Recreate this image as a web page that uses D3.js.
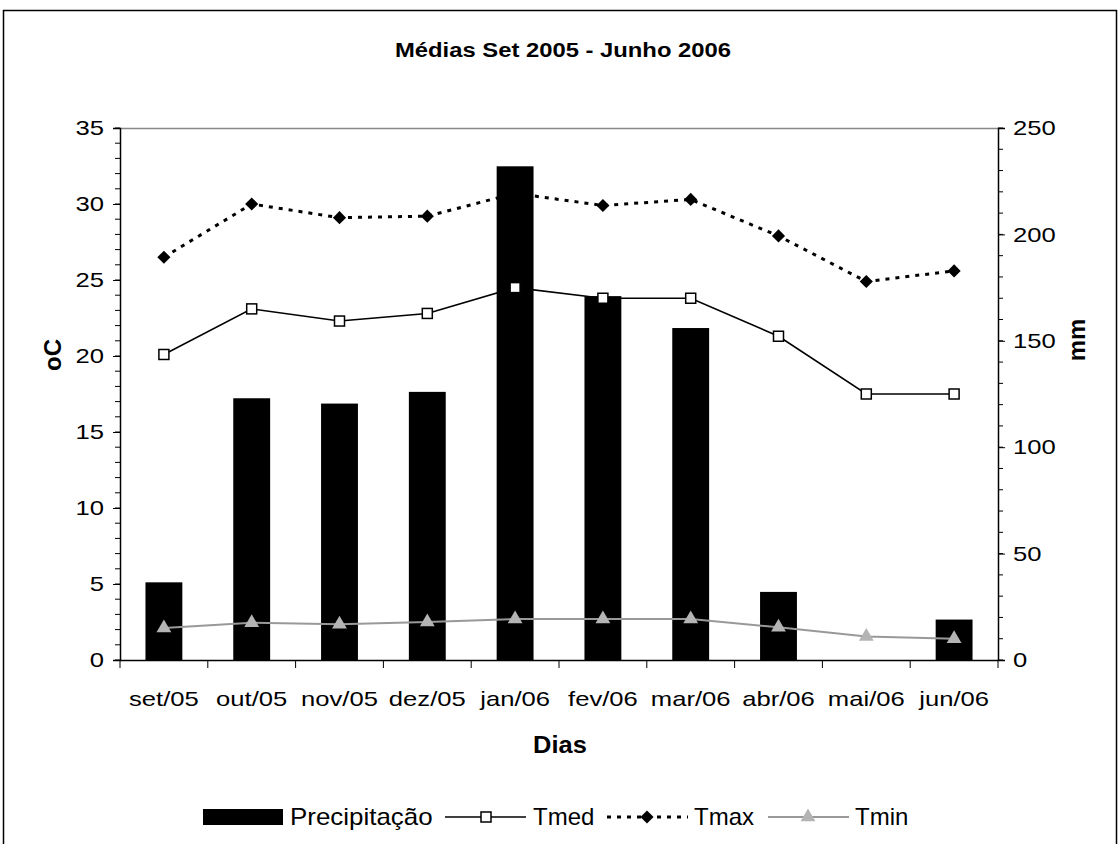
<!DOCTYPE html>
<html>
<head>
<meta charset="utf-8">
<script src="https://cdn.jsdelivr.net/npm/d3@7"></script>
<style>
  body { margin: 0; background: #fff; }
  text { font-family: "Liberation Sans", Arial, sans-serif; fill: #000; }
</style>
</head>
<body>
<div id="chart"></div>
<script>
// data
var months = ["set/05", "out/05", "nov/05", "dez/05", "jan/06", "fev/06", "mar/06", "abr/06", "mai/06", "jun/06"];
var precip = [36.5, 123, 120.5, 126, 232, 171, 156, 32, 0, 19];
var tmed = [20.1, 23.1, 22.3, 22.8, 24.5, 23.8, 23.8, 21.3, 17.5, 17.5];
var tmax = [26.5, 30.0, 29.1, 29.2, 30.7, 29.9, 30.3, 27.9, 24.9, 25.6];
var tmin = [2.1, 2.45, 2.35, 2.5, 2.7, 2.7, 2.7, 2.15, 1.55, 1.4];
var leftTicks = [0, 5, 10, 15, 20, 25, 30, 35];
var rightTicks = [0, 50, 100, 150, 200, 250];

var W = 1120, H = 844;
var plot = { left: 120, right: 998, top: 128, bottom: 660 };

var svg = d3.select("#chart").append("svg")
  .attr("width", W).attr("height", H);

svg.append("rect").attr("width", W).attr("height", H).attr("fill", "#fff");

// the old chart text is drawn wider than the font, stretch it a bit
function stretch(sel, f) {
  sel.each(function() {
    var len = this.getComputedTextLength();
    d3.select(this).attr("textLength", len * f).attr("lengthAdjust", "spacingAndGlyphs");
  });
}

// outer frame
svg.append("rect")
  .attr("x", 3.5).attr("y", 10.5)
  .attr("width", 1113).attr("height", 900)
  .attr("fill", "none").attr("stroke", "#000").attr("stroke-width", 1.5);

/* Scales */
var x = d3.scaleBand().domain(months)
  .range([plot.left, plot.right])
  .paddingInner(0.58).paddingOuter(0.29);
var step = x.step();
var yL = d3.scaleLinear().domain([0, 35]).range([plot.bottom, plot.top]);
var yR = d3.scaleLinear().domain([0, 250]).range([plot.bottom, plot.top]);
var cx = d => x(d) + x.bandwidth() / 2;

// top border of the plot area
svg.append("line")
  .attr("x1", plot.left).attr("x2", plot.right)
  .attr("y1", plot.top + 0.5).attr("y2", plot.top + 0.5)
  .attr("stroke", "#888").attr("stroke-width", 1.5);

/* Bars (secondary axis) */
svg.append("g").selectAll("rect")
  .data(precip.map((v, i) => ({ m: months[i], v: v })))
  .enter().append("rect")
  .attr("x", d => x(d.m))
  .attr("width", x.bandwidth())
  .attr("y", d => yR(d.v))
  .attr("height", d => yR(0) - yR(d.v))
  .attr("fill", "#000");

/* Axes */
var fontTick = "21px";
var leftAxis = svg.append("g")
  .attr("transform", `translate(${plot.left},0)`)
  .call(d3.axisLeft(yL).tickValues(leftTicks).tickSize(7).tickPadding(9));
leftAxis.append("g").selectAll("line")
  .data(d3.range(0, 36))
  .enter().append("line")
  .attr("x1", -5).attr("x2", 0)
  .attr("y1", d => yL(d)).attr("y2", d => yL(d))
  .attr("stroke", "#000");

var rightAxis = svg.append("g")
  .attr("transform", `translate(${plot.right},0)`)
  .call(d3.axisRight(yR).tickValues(rightTicks).tickSize(7).tickPadding(8));
rightAxis.append("g").selectAll("line")
  .data(d3.range(0, 251, 10))
  .enter().append("line")
  .attr("x1", 0).attr("x2", 5)
  .attr("y1", d => yR(d)).attr("y2", d => yR(d))
  .attr("stroke", "#000");

var bottomAxis = svg.append("g")
  .attr("transform", `translate(0,${plot.bottom})`)
  .call(d3.axisBottom(x).tickSize(0).tickPadding(31));
bottomAxis.append("g").selectAll("line")
  .data(d3.range(0, months.length + 1))
  .enter().append("line")
  .attr("x1", d => plot.left + d * step).attr("x2", d => plot.left + d * step)
  .attr("y1", 0).attr("y2", 8)
  .attr("stroke", "#000");

[leftAxis, rightAxis, bottomAxis].forEach(function(g) {
  g.select(".domain").attr("stroke", "#000").attr("stroke-width", 1.5);
  g.selectAll(".tick line").attr("stroke", "#000");
  g.selectAll(".tick text")
    .style("font-family", "Liberation Sans, Arial, sans-serif")
    .style("font-size", fontTick)
    .attr("fill", "#000")
    .call(stretch, 1.22);
});

/* Lines */
function lineGen(y) {
  return d3.line().x((d, i) => cx(months[i])).y(d => y(d));
}

// Tmin
svg.append("path").datum(tmin)
  .attr("d", lineGen(yL))
  .attr("fill", "none").attr("stroke", "#999").attr("stroke-width", 2);
svg.append("g").selectAll("path")
  .data(tmin).enter().append("path")
  .attr("d", d3.symbol(d3.symbolTriangle, 95))
  .attr("transform", (d, i) => `translate(${cx(months[i])},${yL(d)})`)
  .attr("fill", "#b4b4b4");

// Tmed
svg.append("path").datum(tmed)
  .attr("d", lineGen(yL))
  .attr("fill", "none").attr("stroke", "#000").attr("stroke-width", 1.6);
svg.append("g").selectAll("rect")
  .data(tmed).enter().append("rect")
  .attr("x", (d, i) => cx(months[i]) - 5)
  .attr("y", d => yL(d) - 5)
  .attr("width", 10).attr("height", 10)
  .attr("fill", "#fff").attr("stroke", "#000").attr("stroke-width", 1.5);

// Tmax
svg.append("path").datum(tmax)
  .attr("d", lineGen(yL))
  .attr("fill", "none").attr("stroke", "#000").attr("stroke-width", 3)
  .attr("stroke-dasharray", "4,6");
svg.append("g").selectAll("path")
  .data(tmax).enter().append("path")
  .attr("d", d3.symbol(d3.symbolDiamond2, 110))
  .attr("transform", (d, i) => `translate(${cx(months[i])},${yL(d)})`)
  .attr("fill", "#000");

/* Titles */
svg.append("text")
  .attr("x", 563).attr("y", 57)
  .attr("text-anchor", "middle")
  .style("font-size", "20px").style("font-weight", "bold")
  .text("Médias Set 2005 - Junho 2006")
  .call(stretch, 1.19);

svg.append("text")
  .attr("x", 560).attr("y", 753)
  .attr("text-anchor", "middle")
  .style("font-size", "24px").style("font-weight", "bold")
  .text("Dias")
  .call(stretch, 1.06);

svg.append("text")
  .attr("transform", "translate(61,355) rotate(-90)")
  .attr("text-anchor", "middle")
  .style("font-size", "24px").style("font-weight", "bold")
  .text("oC");

svg.append("text")
  .attr("transform", "translate(1085,340) rotate(-90)")
  .attr("text-anchor", "middle")
  .style("font-size", "24px").style("font-weight", "bold")
  .text("mm");

/* Legend */
var ly = 817;
var legend = svg.append("g").style("font-size", "24px");
legend.append("rect").attr("x", 203).attr("y", ly - 8).attr("width", 80).attr("height", 16).attr("fill", "#000");
legend.append("text").attr("x", 290).attr("y", ly + 8).text("Precipitação").call(stretch, 1.08);

legend.append("line").attr("x1", 445).attr("x2", 526).attr("y1", ly).attr("y2", ly)
  .attr("stroke", "#000").attr("stroke-width", 1.6);
legend.append("rect").attr("x", 481).attr("y", ly - 5).attr("width", 10).attr("height", 10)
  .attr("fill", "#fff").attr("stroke", "#000").attr("stroke-width", 1.5);
legend.append("text").attr("x", 533).attr("y", ly + 8).text("Tmed");

legend.append("line").attr("x1", 607).attr("x2", 688).attr("y1", ly).attr("y2", ly)
  .attr("stroke", "#000").attr("stroke-width", 3).attr("stroke-dasharray", "4,6");
legend.append("path").attr("d", d3.symbol(d3.symbolDiamond2, 110))
  .attr("transform", `translate(647,${ly})`).attr("fill", "#000");
legend.append("text").attr("x", 694).attr("y", ly + 8).text("Tmax");

legend.append("line").attr("x1", 768).attr("x2", 849).attr("y1", ly).attr("y2", ly)
  .attr("stroke", "#999").attr("stroke-width", 2);
legend.append("path").attr("d", d3.symbol(d3.symbolTriangle, 95))
  .attr("transform", `translate(808,${ly})`).attr("fill", "#b4b4b4");
legend.append("text").attr("x", 855).attr("y", ly + 8).text("Tmin");
</script>
</body>
</html>
